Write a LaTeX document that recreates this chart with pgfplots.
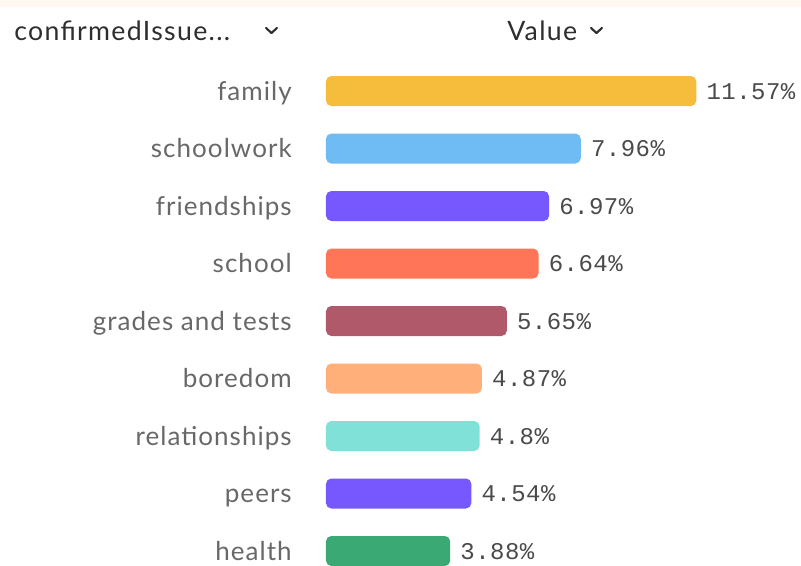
\documentclass[border=0pt]{standalone}
\usepackage{pgfplots}
\pgfplotsset{compat=1.18}
\usepackage{fontspec}
\setmainfont{Lato}[LetterSpace=4]
\newfontfamily\hdrfont{Lato}[LetterSpace=5]
\newfontfamily\monofont{Liberation Mono}[LetterSpace=2]
\definecolor{cfam}{HTML}{F6BC3B}
\definecolor{cschw}{HTML}{6FBCF5}
\definecolor{cpurp}{HTML}{7757FE}
\definecolor{cschool}{HTML}{FF7557}
\definecolor{cgrade}{HTML}{B0596B}
\definecolor{cbore}{HTML}{FFB07A}
\definecolor{crel}{HTML}{80E1D9}
\definecolor{cheal}{HTML}{3BA974}
\definecolor{cream}{HTML}{FFF8F1}
\definecolor{hdr}{HTML}{2E2E2E}
\definecolor{catgray}{HTML}{686868}
\definecolor{valgray}{HTML}{4A4A4A}
\makeatletter
\def\pgfpathrectanglecorners#1#2{%
  \pgf@process{#1}\edef\rr@xa{\the\pgf@x}\edef\rr@ya{\the\pgf@y}%
  \pgf@process{#2}\edef\rr@xb{\the\pgf@x}\edef\rr@yb{\the\pgf@y}%
  \pgf@yc=\rr@ya\relax\advance\pgf@yc by \rr@yb\relax\divide\pgf@yc by 2\relax
  \edef\rr@ym{\the\pgf@yc}%
  \pgfpathmoveto{\pgfqpoint{\rr@xa}{\rr@ym}}%
  \pgfpathlineto{\pgfqpoint{\rr@xa}{\rr@yb}}%
  \pgfpathlineto{\pgfqpoint{\rr@xb}{\rr@yb}}%
  \pgfpathlineto{\pgfqpoint{\rr@xb}{\rr@ya}}%
  \pgfpathlineto{\pgfqpoint{\rr@xa}{\rr@ya}}%
  \pgfpathclose}
\makeatother
\begin{document}
\begin{tikzpicture}
\useasboundingbox (0pt,0pt) rectangle (600.75pt,-423.75pt);
\begin{scope}[x=0.75pt,y=-0.75pt]
\fill[cream] (0,0) rectangle (801,7);
\node[anchor=base west, inner sep=0pt, text=hdr, font=\hdrfont\fontsize{20}{20}\selectfont] at (14,40) {confirmedIssue...};
\node[anchor=base west, inner sep=0pt, text=hdr, font=\hdrfont\fontsize{20}{20}\selectfont] at (507,40) {Value};
\draw[hdr, line width=1.6pt, line cap=round, line join=round] (266,28) -- (271.5,33) -- (277,28);
\draw[hdr, line width=1.6pt, line cap=round, line join=round] (591,28) -- (596.5,33) -- (602,28);
\end{scope}
\begin{axis}[
  at={(244.5pt,0pt)}, anchor=north west,
  scale only axis, width=356.25pt, height=423.75pt,
  xmin=0, xmax=14.84, ymin=-1.5826, ymax=8.2435, y dir=reverse,
  axis line style={draw=none}, tick style={draw=none}, major tick length=0pt,
  xtick=\empty,
  ytick={0,1,2,3,4,5,6,7,8},
  yticklabels={family,schoolwork,friendships,school,grades and tests,boredom,relationships,peers,health},
  yticklabel style={anchor=base east, inner sep=0pt, xshift=-25.5pt, yshift=-6.75pt, text=catgray, font=\fontsize{19.5}{19.5}\selectfont},
  xbar, bar width=22.5pt, bar shift=0pt,
  every axis plot/.append style={draw=none, rounded corners=4pt},
  nodes near coords={\pgfmathprintnumber[fixed,precision=2]{\pgfplotspointmeta}\%},
  /pgf/number format/assume math mode=true,
  every node near coord/.append style={anchor=base west, inner sep=0pt, xshift=7.5pt, yshift=-6pt, text=valgray, font=\monofont\fontsize{18}{18}\selectfont, rounded corners=0pt},
]
\addplot[fill=cfam] coordinates {(11.57,0)};
\addplot[fill=cschw] coordinates {(7.96,1)};
\addplot[fill=cpurp] coordinates {(6.97,2)};
\addplot[fill=cschool] coordinates {(6.64,3)};
\addplot[fill=cgrade] coordinates {(5.65,4)};
\addplot[fill=cbore] coordinates {(4.87,5)};
\addplot[fill=crel] coordinates {(4.80,6)};
\addplot[fill=cpurp] coordinates {(4.54,7)};
\addplot[fill=cheal] coordinates {(3.88,8)};
\end{axis}
\end{tikzpicture}
\end{document}
